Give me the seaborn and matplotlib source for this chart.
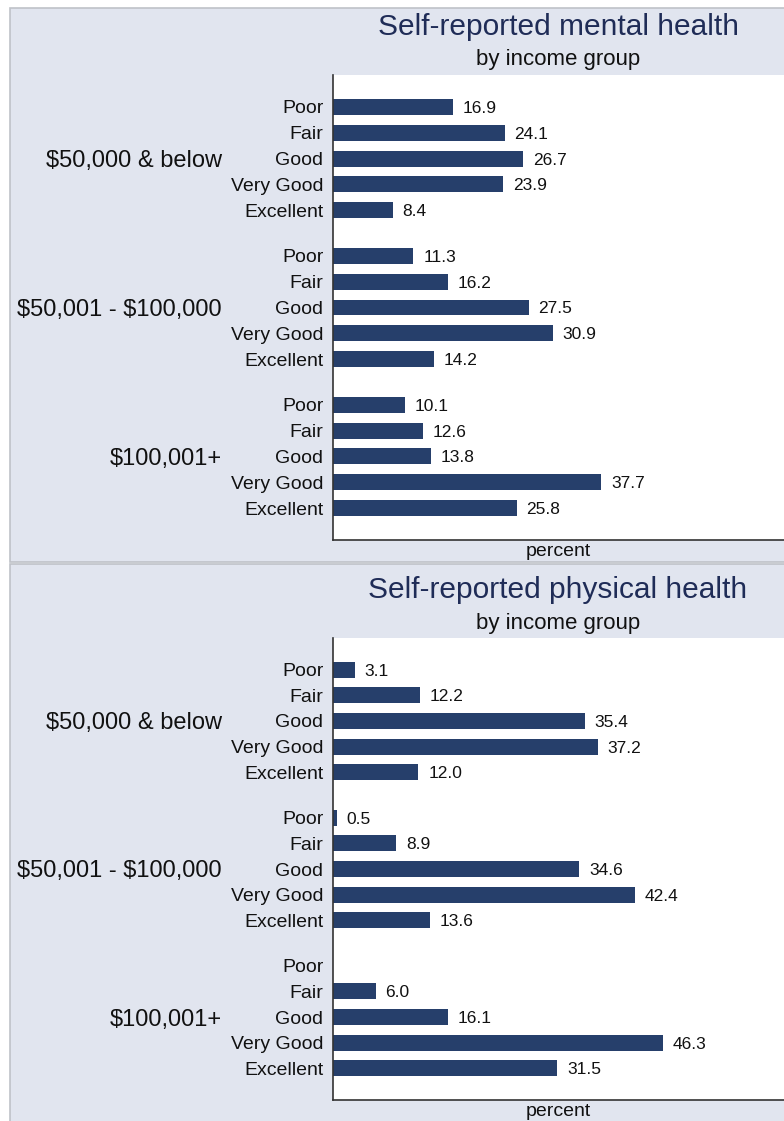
import numpy as np
import pandas as pd
import matplotlib
matplotlib.use("Agg")
import matplotlib.pyplot as plt
import matplotlib.transforms as mtransforms
from matplotlib.patches import Rectangle
import seaborn as sns

# ---- data ----
groups = ["$50,000 & below", "$50,001 - $100,000", "$100,001+"]
categories = ["Poor", "Fair", "Good", "Very Good", "Excellent"]
mental_low = [16.9, 24.1, 26.7, 23.9, 8.4]
mental_mid = [11.3, 16.2, 27.5, 30.9, 14.2]
mental_high = [10.1, 12.6, 13.8, 37.7, 25.8]
physical_low = [3.1, 12.2, 35.4, 37.2, 12.0]
physical_mid = [0.5, 8.9, 34.6, 42.4, 13.6]
physical_high = [np.nan, 6.0, 16.1, 46.3, 31.5]
titles = ["Self-reported mental health", "Self-reported physical health"]
subtitle = "by income group"
xlabel = "percent"

# ---- style ----
sns.set_theme(style="white")
plt.rcParams["font.family"] = ["Liberation Sans", "DejaVu Sans"]

W, H = 784, 1121
DPI = 100
PANEL = "#e1e5ef"
BAR = "#263f6b"
TITLE_C = "#1f2c57"
BORDER = "#bfc2c8"
GROUP_GAP = 5.78

fig = plt.figure(figsize=(W / DPI, H / DPI), dpi=DPI)
fig.patch.set_facecolor("white")


def fx(px):
    return px / W


def fy(py):
    return 1 - py / H


# panel backgrounds
for (top, bot) in [(8, 562), (563.5, 1125)]:
    fig.patches.append(Rectangle((fx(9.5), fy(bot)), fx(W + 5) - fx(9.5), fy(top) - fy(bot),
                                 transform=fig.transFigure, facecolor=PANEL,
                                 edgecolor=BORDER, linewidth=1.2, zorder=-5))


def make_df(series):
    rows = []
    for gi, (g, vals) in enumerate(zip(groups, series)):
        for ci, (c, v) in enumerate(zip(categories, vals)):
            rows.append({"group": g, "category": c, "percent": v,
                         "pos": gi * GROUP_GAP + ci})
    return pd.DataFrame(rows)


panels = [
    dict(series=[mental_low, mental_mid, mental_high], ax_top=75, ax_bot=540,
         title_y=27, sub_y=60, xl_y=551),
    dict(series=[physical_low, physical_mid, physical_high], ax_top=638, ax_bot=1100,
         title_y=590, sub_y=623, xl_y=1112),
]

ax_left, ax_right = 333, 784
xmax = (ax_right - ax_left) / 7.12

for p, title in zip(panels, titles):
    df = make_df(p["series"])
    ax = fig.add_axes([fx(ax_left), fy(p["ax_bot"]), fx(ax_right) - fx(ax_left),
                       fy(p["ax_top"]) - fy(p["ax_bot"])])
    ax.set_zorder(2)
    ax.set_facecolor("white")
    dplot = df.dropna(subset=["percent"])
    sns.barplot(data=dplot, x="percent", y="pos", orient="y", native_scale=True,
                width=0.62, color=BAR, saturation=1, errorbar=None, ax=ax,
                linewidth=0)
    for cont in ax.containers:
        labels = ax.bar_label(cont, fmt="%.1f", padding=7, fontsize=12.5, color="#111111")
        for t in labels:
            t.set_va("center_baseline")

    last = (len(groups) - 1) * GROUP_GAP + len(categories) - 1
    ax.set_ylim(last + 1.24, -1.24)
    ax.set_xlim(0, xmax)
    ax.set_yticks(df["pos"].tolist())
    ax.set_yticklabels(df["category"].tolist(), fontsize=14, color="#111111",
                       va="center_baseline")
    ax.tick_params(axis="y", length=0, pad=7)
    ax.set_xticks([])
    ax.set_xlabel("")
    ax.set_ylabel("")
    for s in ["top", "right"]:
        ax.spines[s].set_visible(False)
    for s in ["left", "bottom"]:
        ax.spines[s].set_color("#333333")
        ax.spines[s].set_linewidth(1.2)

    # group labels
    blend = mtransforms.blended_transform_factory(fig.transFigure, ax.transData)
    for gi, g in enumerate(groups):
        ax.text(fx(222), gi * GROUP_GAP + 2, g, transform=blend, parse_math=False,
                ha="right", va="center_baseline", fontsize=17, color="#111111")

    fig.text(fx(558), fy(p["title_y"]), title, ha="center", va="center",
             fontsize=21.5, color=TITLE_C)
    fig.text(fx(558), fy(p["sub_y"]), subtitle, ha="center", va="center",
             fontsize=16, color="#111111")
    fig.text(fx(558), fy(p["xl_y"]), xlabel, ha="center", va="center",
             fontsize=14, color="#111111")

fig.savefig("out.png", dpi=DPI, facecolor=fig.get_facecolor())
